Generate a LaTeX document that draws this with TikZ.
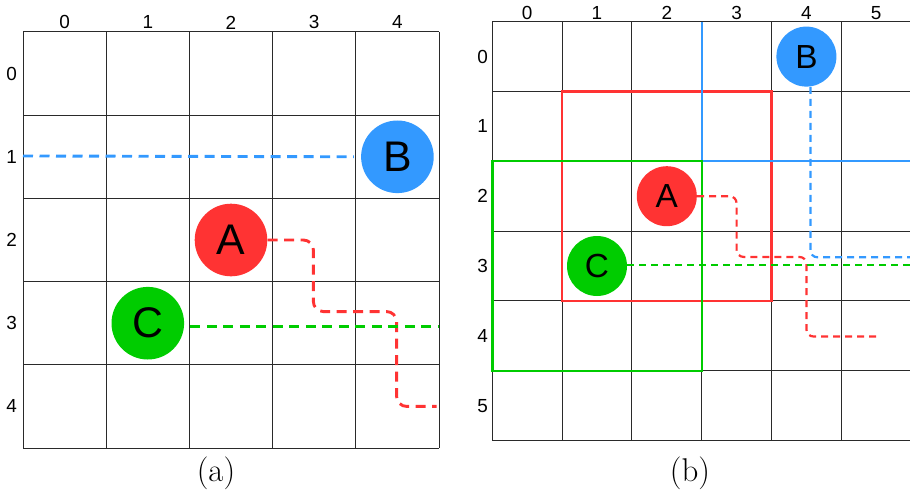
\documentclass[tikz,border=0pt]{standalone}
\usepackage{fontspec}
\newfontfamily\labfont{Liberation Sans}
\usetikzlibrary{positioning}
\definecolor{cBlue}{HTML}{3399FF}
\definecolor{cRed}{HTML}{FF3333}
\definecolor{cGreen}{HTML}{00CC00}
\definecolor{cGrid}{HTML}{2A2A2A}
\tikzset{
  gridln/.style={draw=cGrid, line width=1bp},
  idx/.style={font=\labfont\fontsize{19}{19}\selectfont, inner sep=0pt},
  agent/.style={circle, fill=#1, draw=none, inner sep=0pt, text=black},
  biga/.style={minimum size=72.6bp, font=\labfont\fontsize{43}{43}\selectfont},
  smalla/.style={minimum size=60bp, font=\labfont\fontsize{33.5}{33.5}\selectfont},
  traila/.style={draw=#1, line width=2.9bp, dash pattern=on 10bp off 6.5bp, rounded corners=10bp},
  trailb/.style={draw=#1, line width=2.2bp, dash pattern=on 7bp off 5bp, rounded corners=7bp},
  zone/.style={draw=#1, line width=2.4bp},
  capt/.style={font=\fontsize{33}{33}\selectfont, inner sep=0pt},
}
\begin{document}
\begin{tikzpicture}[x=1bp, y=-1bp]
\useasboundingbox (0,0) rectangle (910,495);
% (a) 5x5 grid
\begin{scope}[shift={(23,32)}, x=83.2bp, y=-83.2bp]
  \foreach \k in {0,...,5}{
    \draw[gridln] (\k,0) -- (\k,5);
    \draw[gridln] (0,\k) -- (5,\k);
  }
  \foreach \k in {0,...,4}{
    \node[idx] at (\k+0.5,-0.115) {\k};
    \node[idx] at (-0.137,\k+0.5) {\k};
  }
  \node[agent=cBlue, biga] (Ba) at (4.5,1.5) {B};
  \node[agent=cRed, biga] (Aa) at (2.5,2.5) {A};
  \node[agent=cGreen, biga] (Ca) at (1.5,3.5) {C};
  \coordinate (aB) at (0,1.49);
  \coordinate (aR) at (4.97,4.5);
  \coordinate (aG) at (5,3.54);
  \draw[traila=cBlue] (aB) -- ([xshift=-7bp]Ba.west);
  \draw[traila=cRed] (Aa.east) -- (3.49,2.5) -- (3.49,3.36) -- (4.49,3.36) -- (4.49,4.5) -- (aR);
  \draw[traila=cGreen] ([xshift=6bp]Ca.east |- aG) -- (aG);
\end{scope}
\node[capt] (capa) at (216,473) {(a)};
% (b) 6x6 grid
\begin{scope}[shift={(492.3,21.7)}, x=69.8bp, y=-69.8bp]
  \foreach \k in {0,...,6}{
    \draw[gridln] (\k,0) -- (\k,6);
    \draw[gridln] (0,\k) -- (6,\k);
  }
  \foreach \k in {0,...,5}{
    \node[idx] at (\k+0.5,-0.12) {\k};
    \node[idx] at (-0.138,\k+0.5) {\k};
  }
  \draw[zone=cRed] (1,1) rectangle (4,4);
  \draw[zone=cBlue] (3,0) -- (3,2) -- (6,2) -- (6,0);
  \draw[zone=cGreen] (0,2) rectangle (3,5);
  \node[agent=cBlue, smalla] (Bb) at (4.5,0.5) {B};
  \node[agent=cRed, smalla] (Ab) at (2.5,2.5) {A};
  \node[agent=cGreen, smalla] (Cb) at (1.5,3.5) {C};
  \coordinate (bB) at (6,3.375);
  \coordinate (bR) at (5.51,4.51);
  \coordinate (bG) at (6,3.49);
  \draw[trailb=cBlue] ([xshift=4bp]Bb.south) |- (bB);
  \draw[trailb=cRed] (Ab.east) -- (3.5,2.5) -- (3.5,3.37) -- (4.5,3.37) -- (4.5,4.51) -- (bR);
  \draw[trailb=cGreen] (Cb.east |- bG) -- (bG);
\end{scope}
\node[capt] (capb) at (690,473) {(b)};
\end{tikzpicture}
\end{document}
